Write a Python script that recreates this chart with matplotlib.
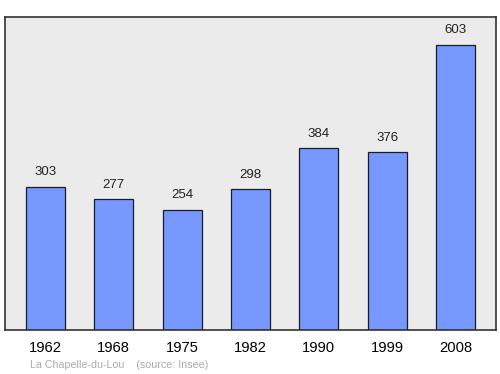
import matplotlib
matplotlib.use("Agg")
import matplotlib.pyplot as plt
import numpy as np

years = ["1962", "1968", "1975", "1982", "1990", "1999", "2008"]
population = [303, 277, 254, 298, 384, 376, 603]

fig = plt.figure(figsize=(5, 3.74), dpi=100)
ax = fig.add_axes([5 / 500, 1 - 330 / 374, 491 / 500, 313 / 374])
ax.set_facecolor("#ebebeb")

x = np.arange(len(years))
ax.bar(x, population, width=0.57, color="#7799ff", edgecolor="#1a1a2a", linewidth=0.9, zorder=2)

for xi, v in zip(x, population):
    ax.text(xi, v + 18, str(v), ha="center", va="bottom", fontsize=9.5, color="#222222",
            family="Liberation Sans")

ax.set_xlim(-0.59, 6.59)
ax.set_ylim(0, 662)
ax.set_yticks([])
ax.set_xticks(x)
ax.set_xticklabels(years, fontsize=10.6, family="Liberation Sans")
ax.tick_params(axis="x", length=0, pad=8)
for s in ax.spines.values():
    s.set_color("#333333")
    s.set_linewidth(1.2)

fig.text(30 / 500, 1 - 365 / 374, "La Chapelle-du-Lou    (source: Insee)", fontsize=7.7,
         color="#aaaaaa", family="Liberation Sans", va="center")

fig.savefig("out.png", dpi=100)
